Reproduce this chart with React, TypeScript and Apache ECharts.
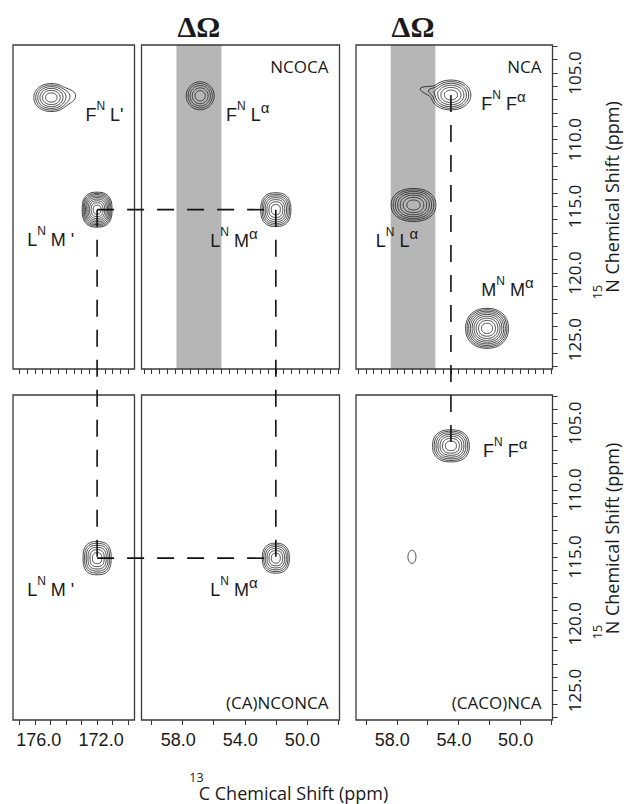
import React, { useEffect, useRef } from "react";
import * as echarts from "echarts";

// ---------------- data ----------------
const panelNames = ["", "NCOCA", "NCA", "", "(CA)NCONCA", "(CACO)NCA"];
const carbonylRange = [169.6, 177.4];
const alphaRange = [47.9, 60.65];
const nitrogenRange = [102.9, 127.2];
const carbonylTickLabels = [176, 172];
const alphaTickLabels = [58, 54, 50];
const nitrogenTickLabels = [105, 110, 115, 120, 125];
const bandRange = [58.4, 55.5];

// peaks (panel 0..5 = TL, TM, TR, BL, BM, BR)
const peakPanel = [0, 0, 1, 1, 2, 2, 2, 5, 3, 4, 5];
const peakC = [174.94, 172.0, 56.87, 52.0, 54.49, 56.92, 52.15, 54.49, 172.0, 52.0, 57.02];
const peakN = [106.84, 115.25, 106.71, 115.25, 106.65, 114.9, 124.15, 106.7, 115.1, 115.1, 115.0];
const peakWidthC = [1.12, 0.96, 0.9, 0.97, 1.29, 1.45, 1.39, 1.19, 0.9, 0.87, 0.26];
const peakWidthN = [1.05, 1.31, 1.05, 1.27, 1.12, 1.24, 1.5, 1.2, 1.24, 1.12, 0.49];
const peakLevels = [6, 9, 5, 7, 6, 7, 9, 7, 6, 6, 1];

// assignment labels
const labelPanel = [0, 0, 1, 1, 2, 2, 2, 5, 3, 4];
const labelText = [
  "{m|F}{s|N}{m| L'}",
  "{m|L}{s|N}{m| M '}",
  "{m|F}{s|N}{m| L}{a|α}",
  "{m|L}{s|N}{m| M}{a|α}",
  "{m|F}{s|N}{m| F}{a|α}",
  "{m|L}{s|N}{m| L}{a|α}",
  "{m|M}{s|N}{m| M}{a|α}",
  "{m|F}{s|N}{m| F}{a|α}",
  "{m|L}{s|N}{m| M '}",
  "{m|L}{s|N}{m| M}{a|α}",
];
const labelC = [172.75, 176.49, 55.21, 56.22, 52.52, 59.37, 52.52, 52.41, 176.49, 56.22];
const labelN = [108.15, 117.53, 108.15, 117.6, 107.36, 117.6, 121.28, 107.08, 117.5, 117.5];

// sequential-walk connections (peak index pairs)
const connections = [
  [1, 3],
  [1, 8],
  [3, 9],
  [8, 9],
  [4, 7],
];

// ---------------- layout / style ----------------
const COLS = [
  [13, 134.5],
  [141.5, 339.5],
  [356, 552.5],
];
const ROWS = [
  [45, 369],
  [395, 720],
];
// contour shape: squareness, lobe angle, lobe amount, lobe sharpness
const peakShape = [
  [2.1, -0.1, 0.4, 10],
  [2.6, 0, 0, 1],
  [2.0, 0, 0, 1],
  [2.5, 0, 0, 1],
  [2.1, Math.PI + 0.25, 0.6, 40],
  [2.2, 0, 0, 1],
  [2.2, 0, 0, 1],
  [2.4, 0, 0, 1],
  [2.7, 0, 0, 1],
  [2.5, 0, 0, 1],
  [2.0, 0, 0, 1],
];

const INK = "#1a1a1a";

function range(a: number, b: number, step: number) {
  const out: number[] = [];
  for (let v = a; v <= b + 1e-9; v += step) out.push(Math.round(v * 100) / 100);
  return out;
}

const labelRich = {
  m: { fontSize: 18, fontFamily: "Liberation Sans", color: INK, lineHeight: 30 },
  s: { fontSize: 12, fontFamily: "Liberation Sans", color: INK, lineHeight: 13, verticalAlign: "top" },
  a: { fontSize: 15, fontFamily: "Liberation Sans", color: INK, lineHeight: 15, verticalAlign: "top" },
};

function contourRender(params: any, api: any) {
  const center = api.coord([api.value(0), api.value(1)]);
  const size = api.size([api.value(2), api.value(3)]);
  const levels = api.value(4);
  const idx = api.value(5);
  const [p, la, lamt, lsh] = peakShape[idx];
  const children: any[] = [];
  for (let k = 0; k < levels; k++) {
    const t = Math.pow(1 - k / levels, 0.62);
    const pts: number[][] = [];
    const N = 90;
    for (let j = 0; j < N; j++) {
      const th = (j / N) * Math.PI * 2;
      const cs = Math.cos(th);
      const sn = Math.sin(th);
      const ex = Math.sign(cs) * Math.pow(Math.abs(cs), 2 / p);
      const ey = Math.sign(sn) * Math.pow(Math.abs(sn), 2 / p);
      const d = Math.cos(th - la);
      const f = 1 + lamt * Math.pow(Math.max(0, d), lsh) * Math.pow(t, 6);
      pts.push([center[0] + size[0] * t * ex * f, center[1] + size[1] * t * ey * f]);
    }
    children.push({
      type: "polygon",
      shape: { points: pts },
      style: { fill: "none", stroke: "#1e1e1e", lineWidth: 0.85 },
    });
  }
  return { type: "group", children };
}

function bandRender(params: any, api: any) {
  const a = api.coord([api.value(0), nitrogenRange[0]]);
  const b = api.coord([api.value(1), nitrogenRange[1]]);
  return {
    type: "rect",
    shape: {
      x: Math.min(a[0], b[0]),
      y: Math.min(a[1], b[1]),
      width: Math.abs(b[0] - a[0]),
      height: Math.abs(b[1] - a[1]),
    },
    style: { fill: "#b6b6b6" },
  };
}

function labelRender(params: any, api: any) {
  const i = api.value(2);
  const pt = api.coord([api.value(0), api.value(1)]);
  return {
    type: "text",
    x: pt[0],
    y: pt[1],
    style: {
      text: labelText[i],
      rich: labelRich,
      align: "left",
      verticalAlign: "middle",
      fill: INK,
    },
  };
}

function buildOption() {
  const grid: any[] = [];
  const xAxis: any[] = [];
  const yAxis: any[] = [];
  const series: any[] = [];
  for (let p = 0; p < 6; p++) {
    const row = p < 3 ? 0 : 1;
    const col = p % 3;
    const [l, r] = COLS[col];
    const [t, b] = ROWS[row];
    grid.push({ left: l, top: t, width: r - l, height: b - t, containLabel: false, outerBoundsMode: "none" });
    const isCO = col === 0;
    const xr = isCO ? carbonylRange : alphaRange;
    let tickVals: number[];
    if (isCO) tickVals = row === 0 ? range(170, 177, 0.5) : range(170, 177, 1);
    else tickVals = row === 0 ? range(48, 60.5, 0.5) : range(48, 60, 2);
    xAxis.push({
      gridIndex: p,
      type: "value",
      inverse: true,
      min: xr[0],
      max: xr[1],
      axisLine: { show: false },
      splitLine: { show: false },
      axisTick: { show: true, inside: false, length: 5, customValues: tickVals, lineStyle: { color: "#333", width: 1 } },
      axisLabel: {
        show: row === 1,
        customValues: isCO ? carbonylTickLabels : alphaTickLabels,
        formatter: (v: number) => v.toFixed(1),
        fontSize: 18,
        fontFamily: "Liberation Sans",
        color: INK,
        margin: 11,
        padding: isCO ? [0, 0, 0, 8] : [0, 9, 0, 0],
      },
    });
    const showY = col === 2;
    yAxis.push({
      gridIndex: p,
      type: "value",
      inverse: true,
      position: "right",
      min: nitrogenRange[0],
      max: nitrogenRange[1],
      show: showY,
      axisLine: { show: false },
      splitLine: { show: false },
      axisTick: { show: showY, inside: false, length: 5, customValues: range(103, 127, 1), lineStyle: { color: "#333", width: 1 } },
      axisLabel: {
        show: showY,
        customValues: nitrogenTickLabels,
        formatter: (v: number) => v.toFixed(1),
        rotate: 90,
        fontSize: 17,
        fontFamily: "Open Sans",
        color: INK,
        margin: 13,
      },
    });
    if (col > 0 && row === 0) {
      series.push({
        type: "custom",
        xAxisIndex: p,
        yAxisIndex: p,
        z: 1,
        renderItem: bandRender,
        data: [[bandRange[0], bandRange[1]]],
        silent: true,
      });
    }
    const pdata: number[][] = [];
    for (let i = 0; i < peakPanel.length; i++) {
      if (peakPanel[i] === p) pdata.push([peakC[i], peakN[i], peakWidthC[i], peakWidthN[i], peakLevels[i], i]);
    }
    series.push({
      type: "custom",
      xAxisIndex: p,
      yAxisIndex: p,
      z: 2,
      renderItem: contourRender,
      data: pdata,
      silent: true,
    });
    const ldata: number[][] = [];
    for (let i = 0; i < labelPanel.length; i++) {
      if (labelPanel[i] === p) ldata.push([labelC[i], labelN[i], i]);
    }
    series.push({
      type: "custom",
      xAxisIndex: p,
      yAxisIndex: p,
      z: 3,
      renderItem: labelRender,
      data: ldata,
      silent: true,
    });
  }
  return { animation: false, grid, xAxis, yAxis, series };
}

function plainText(x: number, y: number, text: string, fontSize: number, extra: any = {}) {
  return {
    type: "text",
    z: 55,
    silent: true,
    x,
    y,
    rotation: extra.rotation || 0,
    style: {
      text,
      fontSize,
      fontFamily: extra.fontFamily || "Open Sans",
      fontWeight: extra.fontWeight || "normal",
      fill: INK,
      align: extra.align || "center",
      verticalAlign: "middle",
    },
  };
}

export default function App() {
  const ref = useRef<HTMLDivElement>(null);
  useEffect(() => {
    if (!ref.current) return;
    const chart = echarts.init(ref.current, undefined, { renderer: "svg" });
    chart.setOption(buildOption());

    const graphics: any[] = [];
    // panel frames and experiment names
    for (let p = 0; p < 6; p++) {
      const row = p < 3 ? 0 : 1;
      const col = p % 3;
      const [l, r] = COLS[col];
      const [t, b] = ROWS[row];
      graphics.push({
        type: "rect",
        z: 50,
        silent: true,
        shape: { x: l, y: t, width: r - l, height: b - t },
        style: { fill: "none", stroke: "#3a3a3a", lineWidth: 1.3 },
      });
      if (panelNames[p]) {
        graphics.push(plainText(r - 11, row === 0 ? t + 21.5 : b - 17.5, panelNames[p], 17, { align: "right" }));
      }
    }
    // connection lines
    const pix = (i: number) => chart.convertToPixel({ gridIndex: peakPanel[i] }, [peakC[i], peakN[i]]) as number[];
    connections.forEach(([a, b]) => {
      const pa = pix(a);
      const pb = pix(b);
      graphics.push({
        type: "line",
        z: 60,
        silent: true,
        shape: { x1: pa[0], y1: pa[1], x2: pb[0], y2: pb[1] },
        style: { stroke: "#111", lineWidth: 1.6, lineDash: [17, 13] },
      });
    });
    // ΔΩ above the bands
    [1, 2].forEach((p) => {
      const pt = chart.convertToPixel({ gridIndex: p }, [(bandRange[0] + bandRange[1]) / 2, nitrogenRange[0]]) as number[];
      graphics.push(plainText(pt[0], 26, "ΔΩ", 30, { fontFamily: "Liberation Serif", fontWeight: "bold" }));
    });
    // axis titles
    graphics.push(plainText(293.5, 793, "C Chemical Shift (ppm)", 18));
    graphics.push(plainText(196.5, 777, "13", 12.5));
    [
      [197, 292],
      [538.5, 632],
    ].forEach(([cy, sy]) => {
      graphics.push(plainText(612, cy, "N Chemical Shift (ppm)", 18, { rotation: Math.PI / 2 }));
      graphics.push(plainText(597.5, sy, "15", 12.5, { rotation: Math.PI / 2 }));
    });
    chart.setOption({ graphic: graphics });

    return () => chart.dispose();
  }, []);
  return <div ref={ref} style={{ position: "absolute", left: 0, top: 0, width: 627, height: 804, background: "#fff" }} />;
}
